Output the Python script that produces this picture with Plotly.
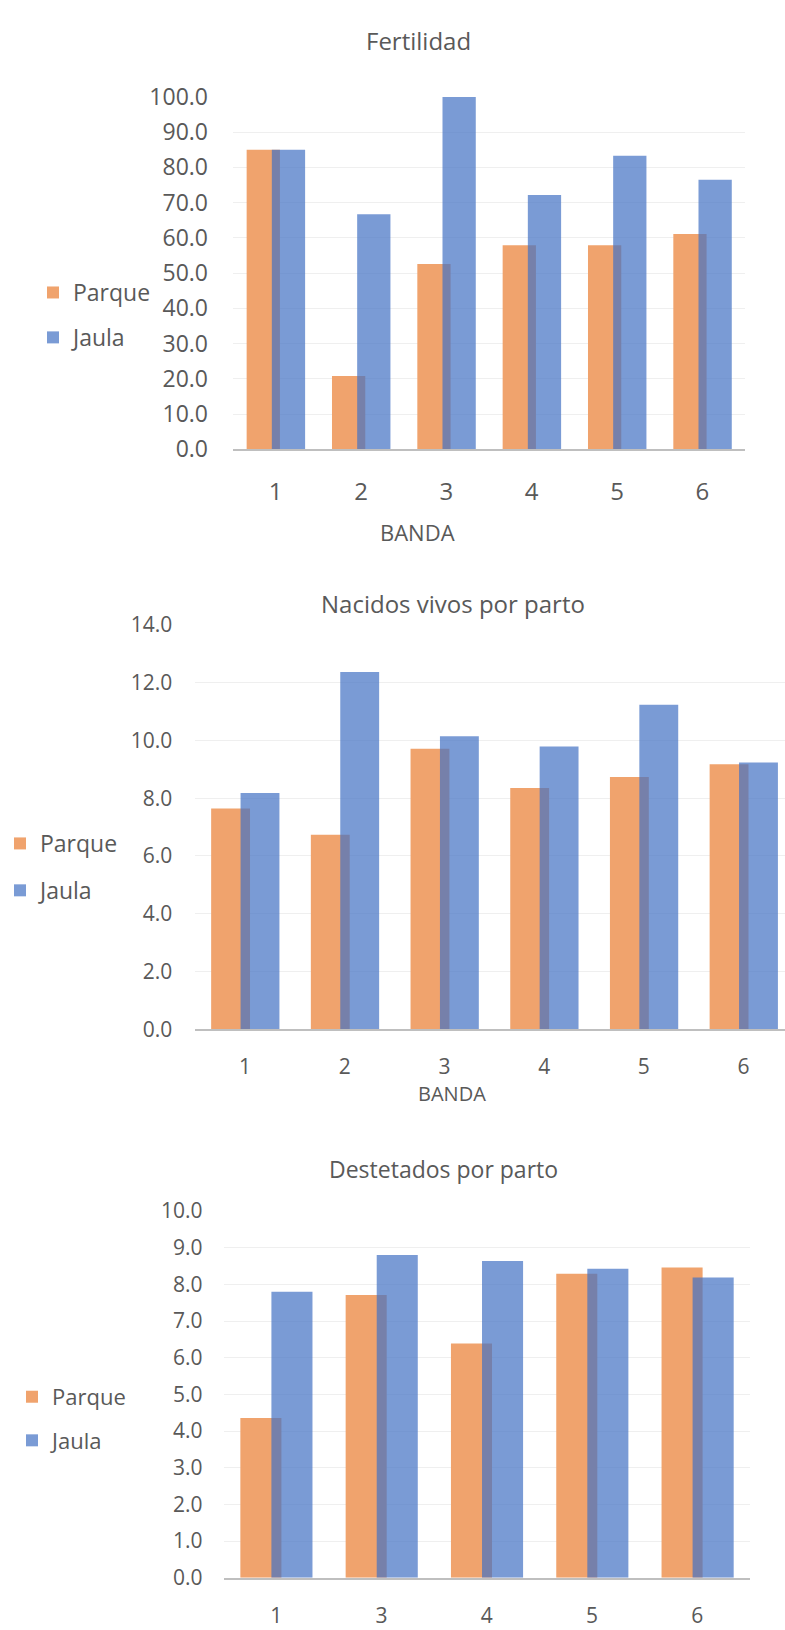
import plotly.graph_objects as go

# Data per band (BANDA) for each housing system
bandas_1 = ["1", "2", "3", "4", "5", "6"]
fert_parque = [85.0, 20.8, 52.6, 57.9, 57.9, 61.1]
fert_jaula = [85.0, 66.7, 100.0, 72.2, 83.3, 76.5]

bandas_2 = ["1", "2", "3", "4", "5", "6"]
nv_parque = [7.64, 6.73, 9.71, 8.35, 8.73, 9.17]
nv_jaula = [8.18, 12.37, 10.14, 9.79, 11.23, 9.23]

bandas_3 = ["1", "3", "4", "5", "6"]
dest_parque = [4.36, 7.71, 6.39, 8.29, 8.46]
dest_jaula = [7.80, 8.80, 8.64, 8.43, 8.19]

W, H = 785, 1630
FONT = "Open Sans"
TXT = "#595959"
ORANGE = "#F0A36D"
BLUE = "rgba(68,114,196,0.71)"
GRID = "#EFEFEF"
AXIS = "#BFBFBF"

BAR_W = 0.39
OFF_P = -0.34
OFF_J = -0.045


def px_x(p):
    return p / W


def px_y(p):
    return 1 - p / H


fig = go.Figure()

panels = [
    # (categories, parque, jaula, axis suffix, legend id)
    (bandas_1, fert_parque, fert_jaula, "", "legend"),
    (bandas_2, nv_parque, nv_jaula, "2", "legend2"),
    (bandas_3, dest_parque, dest_jaula, "3", "legend3"),
]

for cats, parque, jaula, sfx, leg in panels:
    fig.add_trace(go.Bar(
        x=cats, y=parque, name="Parque",
        xaxis="x" + sfx, yaxis="y" + sfx,
        marker=dict(color=ORANGE, line=dict(width=0)),
        width=[BAR_W] * len(cats), offset=[OFF_P] * len(cats),
        legend=leg, legendgroup="p" + sfx,
    ))
    fig.add_trace(go.Bar(
        x=cats, y=jaula, name="Jaula",
        xaxis="x" + sfx, yaxis="y" + sfx,
        marker=dict(color=BLUE, line=dict(width=0)),
        width=[BAR_W] * len(cats), offset=[OFF_J] * len(cats),
        legend=leg, legendgroup="j" + sfx,
    ))


def xaxis(domain, rng, anchor, size, standoff):
    return dict(
        domain=domain, range=rng, anchor=anchor, type="category",
        showgrid=False, showline=True, linecolor=AXIS, linewidth=1.5,
        ticks="", tickfont=dict(family=FONT, size=size, color=TXT),
        ticklabelstandoff=standoff, fixedrange=True, zeroline=False,
    )


def yaxis(domain, rng, dtick, anchor, size, standoff):
    return dict(
        domain=domain, range=rng, dtick=dtick, anchor=anchor,
        tickformat=".1f", showgrid=True, gridcolor=GRID, gridwidth=1,
        showline=False, zeroline=False, ticks="",
        tickfont=dict(family=FONT, size=size, color=TXT),
        ticklabelstandoff=standoff, fixedrange=True,
    )


def legend(x, y, size, gap):
    return dict(
        x=x, y=y, xanchor="left", yanchor="middle", orientation="v",
        font=dict(family=FONT, size=size, color=TXT),
        bgcolor="rgba(0,0,0,0)", borderwidth=0,
        tracegroupgap=gap, traceorder="grouped", itemclick=False,
    )


fig.update_layout(
    width=W, height=H,
    margin=dict(l=0, r=0, t=0, b=0),
    paper_bgcolor="white", plot_bgcolor="white",
    barmode="overlay",
    xaxis=xaxis([px_x(233), px_x(745)], [-0.5, 5.5], "y", 24, 20),
    yaxis=yaxis([px_y(441), px_y(81.5)], [0, 100], 10, "x", 23, 24),
    xaxis2=xaxis([px_x(195.2), 1.0], [-0.5, 5.416], "y2", 21, 18),
    yaxis2=yaxis([px_y(1032.5), px_y(620)], [0, 14], 2, "x2", 21, 22),
    xaxis3=xaxis([px_x(223.5), px_x(750)], [-0.5, 4.5], "y3", 21, 18),
    yaxis3=yaxis([px_y(1592), px_y(1218)], [0, 10], 1, "x3", 21, 20),
    legend=legend(px_x(33), px_y(304), 23, 12),
    legend2=legend(px_x(0), px_y(867), 23, 14),
    legend3=legend(px_x(12), px_y(1430), 22, 12),
    showlegend=True,
)

annotations = [
    ("Fertilidad", 418, 24, 24),
    ("BANDA", 417, 525, 22),
    ("Nacidos vivos por parto", 453, 598, 24),
    ("BANDA", 452, 1098, 20),
    ("Destetados por parto", 443, 1175, 23),
]
for text, x, y, size in annotations:
    fig.add_annotation(
        text=text, x=px_x(x), y=px_y(y), xref="paper", yref="paper",
        xanchor="center", yanchor="middle", showarrow=False,
        font=dict(family=FONT, size=size, color=TXT),
    )

fig.write_html("out.html")
